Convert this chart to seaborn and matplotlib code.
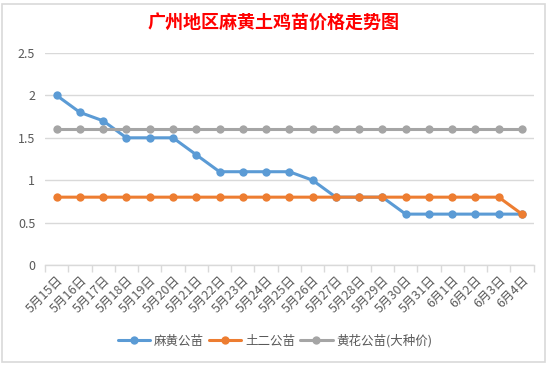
import matplotlib
matplotlib.use("Agg")
import matplotlib.pyplot as plt
import seaborn as sns
import pandas as pd
from matplotlib.patches import Rectangle
from matplotlib.lines import Line2D

dates = ["5月15日", "5月16日", "5月17日", "5月18日", "5月19日", "5月20日", "5月21日",
         "5月22日", "5月23日", "5月24日", "5月25日", "5月26日", "5月27日", "5月28日",
         "5月29日", "5月30日", "5月31日", "6月1日", "6月2日", "6月3日", "6月4日"]
mahuang = [2.0, 1.8, 1.7, 1.5, 1.5, 1.5, 1.3, 1.1, 1.1, 1.1, 1.1, 1.0, 0.8, 0.8,
           0.8, 0.6, 0.6, 0.6, 0.6, 0.6, 0.6]
tuer = [0.8] * 20 + [0.6]
huanghua = [1.6] * 21
series_names = ["麻黄公苗", "土二公苗", "黄花公苗(大种价)"]
colors = ["#5B9BD5", "#ED7D31", "#A5A5A5"]
title = "广州地区麻黄土鸡苗价格走势图"

sns.set_theme(style="white")
plt.rcParams["font.family"] = ["Noto Sans CJK SC", "DejaVu Sans"]

rows = []
for name, vals in zip(series_names, [mahuang, tuer, huanghua]):
    for i, v in enumerate(vals):
        rows.append({"idx": i, "price": v, "series": name})
df = pd.DataFrame(rows)

fig = plt.figure(figsize=(5.52, 3.66), dpi=100)
fig.patch.set_facecolor("white")
fig.patches.append(Rectangle((2 / 552, 4 / 366), 543 / 552, 358 / 366,
                             transform=fig.transFigure, fill=False,
                             edgecolor="#D9D9D9", linewidth=1.2))

ax = fig.add_axes([45 / 552, 1 - 265 / 366, (533.6 - 45) / 552, (265 - 53) / 366])
sns.lineplot(data=df, x="idx", y="price", hue="series", hue_order=series_names,
             palette=colors, marker="o", markersize=6, markeredgewidth=0,
             linewidth=2.2, ax=ax, legend=False)

n = len(dates)
ax.set_xlim(-0.5, n - 0.5)
ax.set_ylim(0, 2.5)
ax.set_yticks([0, 0.5, 1, 1.5, 2, 2.5])
ax.set_yticklabels(["0", "0.5", "1", "1.5", "2", "2.5"])
ax.yaxis.grid(True, color="#D9D9D9", linewidth=1)
ax.set_axisbelow(True)
ax.set_xticks(range(n))
ax.set_xticklabels(dates, rotation=45, ha="right", rotation_mode="anchor")
ax.set_xticks([i - 0.5 for i in range(n + 1)], minor=True)
ax.tick_params(axis="x", which="major", length=0, pad=6, labelsize=9, labelcolor="#595959")
ax.tick_params(axis="x", which="minor", length=5, width=1, color="#D9D9D9", direction="out", bottom=True)
ax.tick_params(axis="y", length=0, pad=7, labelsize=9, labelcolor="#595959")
ax.set_xlabel("")
ax.set_ylabel("")
for s in ["top", "right", "left"]:
    ax.spines[s].set_visible(False)
ax.spines["bottom"].set_color("#D9D9D9")
ax.spines["bottom"].set_linewidth(1)

fig.text(274 / 552, 1 - 22 / 366, title, color="#FF0000", fontsize=13,
         fontweight="bold", ha="center", va="center")

handles = [Line2D([0], [0], color=c, linewidth=2.2, marker="o", markersize=6,
                  markeredgewidth=0) for c in colors]
leg = fig.legend(handles, series_names, loc="center", ncol=3,
                 bbox_to_anchor=(275 / 552, 1 - 341 / 366), frameon=False,
                 fontsize=9, handlelength=2.6, handletextpad=0.3, columnspacing=0.4)
for t in leg.get_texts():
    t.set_color("#595959")

fig.savefig("out.png", dpi=100, facecolor="white")
